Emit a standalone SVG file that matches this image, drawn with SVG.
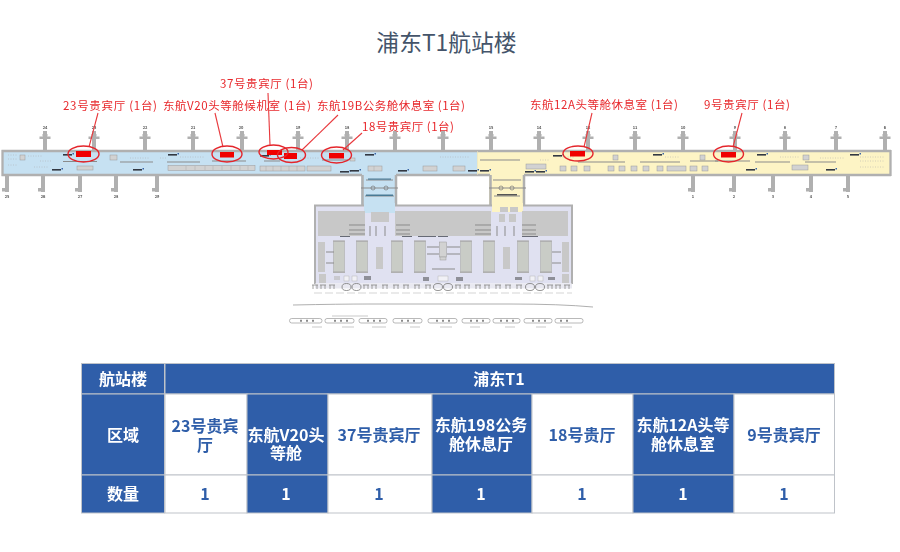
<svg xmlns="http://www.w3.org/2000/svg" xmlns:xlink="http://www.w3.org/1999/xlink" width="900" height="552" viewBox="0 0 900 552">
<style>
text{font-family:"Noto Sans CJK SC","Microsoft YaHei",sans-serif}
.title{font-size:22.800px;fill:#44546a;text-anchor:middle}
.red{font-size:11.500px;fill:#e8282c}
.lead{stroke:#e8383c;stroke-width:1.100;fill:none}
.ell{stroke:#e4252b;stroke-width:1.400;fill:none}
.spot{fill:#f00000}
.g{fill:#b0b0b0}
.lg{fill:#c8c8c8}
.d{fill:#333842}
.bx{fill:#d2d2d2;stroke:#9a9a9a;stroke-width:.5}
.ln{stroke:#8b8b8b;stroke-width:1;fill:none}
.thin{stroke:#aaa;stroke-width:.5;fill:none}
.sm{fill:#c9c9cf}
.gate{font-size:4px;fill:#555;text-anchor:middle;font-weight:700}
.hd{fill:#2f5ea9;stroke:#bfc3c9;stroke-width:1}
.wh{fill:#fff;stroke:#bfc3c9;stroke-width:1}
.tw{font-size:16px;font-weight:700;fill:#fff;text-anchor:middle}
.tb{font-size:16px;font-weight:700;fill:#2f5ea9;text-anchor:middle}
</style>
<defs>
<filter id="soft" x="-2%" y="-2%" width="104%" height="104%"><feGaussianBlur stdDeviation="0.6"/></filter>
<g id="st"><rect x="-2" y="-20" width="4" height="20" class="g"/><rect x="-5.500" y="-14.500" width="11" height="2.500" class="g"/><rect x="-2.500" y="-17" width="5" height="2.500" class="g"/></g>
<g id="sb"><rect x="-2" y="0" width="4" height="17" class="g"/><rect x="-5" y="13" width="6" height="3.500" class="g"/></g>
<g id="col"><rect x="-5.500" y="0" width="11" height="31" fill="#c9ccc6" stroke="#a5a5a5" stroke-width=".5"/><rect x="-6" y="-.5" width="12" height="1.500" class="g"/><rect x="-6" y="30.500" width="12" height="1.500" class="g"/></g>
<g id="ring"><ellipse cx="-5" cy="0" rx="4.500" ry="3.500" fill="none" stroke="#777" stroke-width=".8"/><ellipse cx="5" cy="0" rx="4.500" ry="3.500" fill="none" stroke="#777" stroke-width=".8"/></g>
<g id="mk"><rect x="0" y="0" width="9" height="1.600" class="d"/><rect x="9.500" y="-1" width="1.500" height="1.500" fill="#3a66a8"/></g>
<g id="tt"><path d="M-3 0H3M-2 0V4M2 0V4" stroke="#888" stroke-width=".8" fill="none"/></g>
</defs>

<text class="title" x="446.500" y="51">浦东T1航站楼</text>

<g id="plan" filter="url(#soft)">
<g id="stands-top">
<use xlink:href="#st" x="45" y="151"/><use xlink:href="#st" x="94" y="151"/><use xlink:href="#st" x="145" y="151"/><use xlink:href="#st" x="193" y="151"/><use xlink:href="#st" x="242" y="151"/><use xlink:href="#st" x="298" y="151"/><use xlink:href="#st" x="347" y="151"/><use xlink:href="#st" x="395" y="151"/><use xlink:href="#st" x="443" y="151"/><use xlink:href="#st" x="491" y="151"/><use xlink:href="#st" x="539" y="151"/><use xlink:href="#st" x="588" y="151"/><use xlink:href="#st" x="635" y="151"/><use xlink:href="#st" x="683" y="151"/><use xlink:href="#st" x="735" y="151"/><use xlink:href="#st" x="785" y="151"/><use xlink:href="#st" x="836" y="151"/><use xlink:href="#st" x="885" y="151"/>
</g>
<g id="stands-bottom">
<use xlink:href="#sb" x="7" y="175"/><use xlink:href="#sb" x="43" y="175"/><use xlink:href="#sb" x="80" y="175"/><use xlink:href="#sb" x="116" y="175"/><use xlink:href="#sb" x="157" y="175"/><use xlink:href="#sb" x="693" y="175"/><use xlink:href="#sb" x="734" y="175"/><use xlink:href="#sb" x="773" y="175"/><use xlink:href="#sb" x="811" y="175"/><use xlink:href="#sb" x="848" y="175"/>
</g>
<g id="gate-numbers">
<text class="gate" x="45" y="129">24</text><text class="gate" x="94" y="129">23</text><text class="gate" x="145" y="129">22</text><text class="gate" x="193" y="129">21</text><text class="gate" x="241" y="129">20</text><text class="gate" x="298" y="129">19</text><text class="gate" x="347" y="129">18</text><text class="gate" x="491" y="129">15</text><text class="gate" x="539" y="129">14</text><text class="gate" x="588" y="129">12</text><text class="gate" x="635" y="129">11</text><text class="gate" x="683" y="129">10</text><text class="gate" x="735" y="129">9</text><text class="gate" x="785" y="129">8</text><text class="gate" x="836" y="129">7</text><text class="gate" x="885" y="129">6</text>
<text class="gate" x="7" y="198">25</text><text class="gate" x="43" y="198">26</text><text class="gate" x="80" y="198">27</text><text class="gate" x="116" y="198">28</text><text class="gate" x="157" y="198">29</text><text class="gate" x="693" y="198">1</text><text class="gate" x="734" y="198">2</text><text class="gate" x="773" y="198">3</text><text class="gate" x="811" y="198">4</text><text class="gate" x="848" y="198">5</text>
</g>

<rect x="361" y="172" width="36" height="36" fill="#c6e1f2"/>
<rect x="489" y="172" width="36" height="36" fill="#fdf4c5"/>
<path d="M362.500 175V205M396 175V205M490.500 175V205M524 175V205" stroke="#b0b0b0" stroke-width="2.500" fill="none"/>

<rect x="315" y="205.500" width="257" height="78" fill="#e0e1f1"/>
<path d="M315 284V205.500H572V284" fill="none" stroke="#b0b0b0" stroke-width="2"/>
<rect x="364" y="203" width="31" height="10" fill="#c6e1f2"/>
<rect x="492" y="203" width="31" height="9" fill="#fdf4c5"/>
<g class="lg"><rect x="318" y="211" width="47" height="25"/><rect x="395" y="211" width="96" height="25"/><rect x="522" y="211" width="46" height="25"/></g>
<rect x="371" y="212" width="18" height="10" class="lg"/>
<rect x="500" y="207" width="8" height="5" class="lg"/><rect x="510" y="207" width="8" height="5" class="lg"/><rect x="499" y="214" width="6" height="8" class="lg"/><rect x="509" y="214" width="7" height="8" class="lg"/>
<g>
<use xlink:href="#col" x="339" y="241"/><use xlink:href="#col" x="362" y="241"/><use xlink:href="#col" x="397" y="241"/><use xlink:href="#col" x="420" y="241"/><use xlink:href="#col" x="466" y="241"/><use xlink:href="#col" x="489" y="241"/><use xlink:href="#col" x="523" y="241"/><use xlink:href="#col" x="546" y="241"/>
</g>
<g class="lg"><rect x="318" y="242" width="7" height="30"/><rect x="562" y="242" width="7" height="30"/><rect x="376" y="247" width="7" height="22"/><rect x="503" y="247" width="7" height="22"/><rect x="319" y="274" width="7" height="9"/><rect x="562" y="274" width="7" height="9"/></g>
<rect x="439.500" y="242" width="7" height="15" class="bx"/><rect x="440" y="257" width="6" height="3" class="bx"/>
<g class="ln" stroke-width=".7">
<path d="M349 225H365M349 230H365M349 234H365M396 225H410M396 230H410M396 234H410M475 225H491M475 230H491M475 234H491M522 225H536M522 230H536M522 234H536"/>
<path d="M370 226V236M376 226V236M385 226V236M497 226V236M505 226V236M514 226V236"/>
<path d="M326 252H334M326 263H334M427 247H439M427 254H439M447 247H460M447 254H460M552 252H561M552 263H561"/>
<path d="M432 269H455"/>
</g>
<g class="d" opacity=".7"><rect x="340" y="236" width="10" height="1"/><rect x="402" y="236" width="10" height="1"/><rect x="418" y="236" width="18" height="1"/><rect x="438" y="236" width="10" height="1"/><rect x="522" y="236" width="16" height="1"/></g>
<g class="sm"><rect x="334" y="276" width="6" height="4"/><rect x="344" y="276" width="5" height="5" fill="#f1f1f6" stroke="#aaa" stroke-width=".4"/><rect x="352" y="276" width="5" height="5" fill="#f1f1f6" stroke="#aaa" stroke-width=".4"/><rect x="364" y="276" width="7" height="4" fill="#8e8f98"/><rect x="423" y="277" width="6" height="4" fill="#8e8f98"/><rect x="438" y="276" width="10" height="5" fill="#f1f1f6" stroke="#aaa" stroke-width=".4"/><rect x="456" y="277" width="7" height="4" fill="#8e8f98"/><rect x="515" y="277" width="7" height="3" fill="#8e8f98"/><rect x="530" y="276" width="5" height="5" fill="#f1f1f6" stroke="#aaa" stroke-width=".4"/><rect x="538" y="276" width="5" height="5" fill="#f1f1f6" stroke="#aaa" stroke-width=".4"/><rect x="548" y="277" width="7" height="3" fill="#8e8f98"/></g>
<rect x="315" y="283.500" width="257" height="5" fill="#e9e9f1"/>
<g id="rings"><use xlink:href="#ring" x="351.500" y="287"/><use xlink:href="#ring" x="443" y="287"/><use xlink:href="#ring" x="535" y="287"/></g>
<g><use xlink:href="#tt" x="315" y="285"/><use xlink:href="#tt" x="323" y="285"/><use xlink:href="#tt" x="332" y="285"/><use xlink:href="#tt" x="366" y="285"/><use xlink:href="#tt" x="374" y="285"/><use xlink:href="#tt" x="385" y="285"/><use xlink:href="#tt" x="396" y="285"/><use xlink:href="#tt" x="406" y="285"/><use xlink:href="#tt" x="417" y="285"/><use xlink:href="#tt" x="428" y="285"/><use xlink:href="#tt" x="458" y="285"/><use xlink:href="#tt" x="467" y="285"/><use xlink:href="#tt" x="478" y="285"/><use xlink:href="#tt" x="487" y="285"/><use xlink:href="#tt" x="498" y="285"/><use xlink:href="#tt" x="508" y="285"/><use xlink:href="#tt" x="519" y="285"/><use xlink:href="#tt" x="550" y="285"/><use xlink:href="#tt" x="558" y="285"/><use xlink:href="#tt" x="567" y="285"/></g>
<path d="M314 293H572" stroke="#d5d5d5" stroke-width="1" fill="none" stroke-dasharray="8 3"/>
<path d="M293 305Q340 304 370 304H510Q560 304 593 307" stroke="#9b9b9b" stroke-width=".8" fill="none"/>
<g fill="#fff" stroke="#9b9b9b" stroke-width=".7">
<rect x="289.500" y="318.500" width="32.500" height="4.500" rx="2.200"/><rect x="325" y="318.500" width="29" height="4.500" rx="2"/><rect x="359" y="318.500" width="28" height="4.500" rx="2"/><rect x="393" y="318.500" width="29" height="4.500" rx="2"/><rect x="428" y="318.500" width="29" height="4.500" rx="2"/><rect x="462" y="318.500" width="28" height="4.500" rx="2"/><rect x="493" y="318.500" width="27" height="4.500" rx="2"/><rect x="524" y="318.500" width="28" height="4.500" rx="2"/><rect x="555" y="318.500" width="28" height="4.500" rx="2"/>
</g>
<path d="M300 320.700H316M334 320.700H348M367 320.700H381M401 320.700H416M436 320.700H451M470 320.700H484M500 320.700H514M532 320.700H546M560 320.700H572" stroke="#8a8a8a" stroke-width="2" stroke-dasharray="2 4" fill="none"/>
<path d="M332 316H368M312 327H322M342 327H354M372 327H386M410 327H420M440 327H452M470 327H480M505 327H515M536 327H546M560 327H572" stroke="#c9c9c9" stroke-width="1.200" fill="none"/>

<rect x="3" y="151.500" width="475" height="23" fill="#c6e1f2"/>
<rect x="477" y="151.500" width="414" height="23" fill="#fdf4c5"/>
<path d="M1.500 151H891M1.500 175H362M396 175H490M524 175H891M2.500 150V176M890.500 150V176" stroke="#b0b0b0" stroke-width="2.300" fill="none"/>
<path d="M477.500 151V175" stroke="#e8e3c0" stroke-width=".6"/>
<g class="ln" stroke-width=".7"><path d="M366 180H393M361 188H398M365 196H394M493 180H521M489 188H526M494 196H520"/></g>
<circle cx="373" cy="188" r="2" fill="none" stroke="#777" stroke-width=".7"/><circle cx="386" cy="188" r="2" fill="none" stroke="#777" stroke-width=".7"/><circle cx="501" cy="188" r="2" fill="none" stroke="#777" stroke-width=".7"/><circle cx="512" cy="188" r="2" fill="none" stroke="#777" stroke-width=".7"/>
<rect x="368" y="178.500" width="23" height="1.200" fill="#4a7a94"/><rect x="366" y="194.500" width="27" height="1.500" fill="#4a7a94"/><rect x="497" y="194" width="20" height="1.500" fill="#555"/>
<g id="marks">
<use xlink:href="#mk" x="63" y="154"/><use xlink:href="#mk" x="52" y="169"/><use xlink:href="#mk" x="133" y="169"/><use xlink:href="#mk" x="168" y="154"/><use xlink:href="#mk" x="260" y="155"/><use xlink:href="#mk" x="365" y="154"/><use xlink:href="#mk" x="340" y="171"/><use xlink:href="#mk" x="350" y="170"/><use xlink:href="#mk" x="398" y="170"/><use xlink:href="#mk" x="468" y="170"/><use xlink:href="#mk" x="480" y="170"/><use xlink:href="#mk" x="525" y="171"/><use xlink:href="#mk" x="536" y="171"/><use xlink:href="#mk" x="553" y="155"/><use xlink:href="#mk" x="653" y="154"/><use xlink:href="#mk" x="757" y="154"/><use xlink:href="#mk" x="746" y="169"/><use xlink:href="#mk" x="850" y="154"/><use xlink:href="#mk" x="826" y="169"/>
</g>
<path class="ln" d="M63 161.500H97M120 162H153M167 162H200M212 161H246M264 161H280M322 160H348M480 160H520M578 162H625M640 162H680M690 161H718M715 161H750M755 162H790M805 162H836" stroke-width="1"/>
<g class="bx">
<rect x="77" y="166" width="16" height="4"/><rect x="168" y="165.500" width="87" height="5"/><rect x="260" y="166" width="45" height="5"/><rect x="307" y="166" width="24" height="5"/><rect x="423" y="166" width="14" height="5"/><rect x="453" y="166" width="12" height="5"/><rect x="526" y="164" width="20" height="5"/><rect x="560" y="166" width="6" height="5"/><rect x="571" y="166" width="6" height="5"/><rect x="584" y="166" width="6" height="5"/><rect x="608" y="166" width="6" height="5"/><rect x="619" y="166" width="6" height="5"/><rect x="631" y="166" width="6" height="5"/><rect x="643" y="166" width="6" height="5"/><rect x="657" y="166" width="6" height="5"/><rect x="667" y="166" width="19" height="5"/><rect x="690" y="166" width="7" height="5"/><rect x="702" y="166" width="6" height="5"/><rect x="792" y="165" width="16" height="5"/>
<rect x="20" y="155" width="5" height="5"/><rect x="110" y="155" width="7" height="5"/><rect x="613" y="155" width="5" height="5"/><rect x="700" y="155" width="5" height="5"/><rect x="803" y="155" width="6" height="5"/>
<rect x="350" y="158" width="5" height="3"/><rect x="368" y="166" width="14" height="5"/>
</g>
<path class="thin" d="M186 166V170M195 166V170M205 166V170M213 166V170M222 166V170M231 166V170M240 166V170M248 166V170M266 166V171M273 166V171M281 166V171M289 166V171M297 166V171M374 166V171"/>
<path class="thin" stroke-dasharray="1 1.500" d="M8 155H18M8 159H18M8 165H18M28 156H42M40 161H52M34 167H48M130 158H150M160 158H166M180 157H205M300 158H320M440 157H470M665 157H680M780 157H800M860 157H885M860 161H885M860 167H885M820 158H845M560 157H575M540 160H550"/>
</g>

<g id="vip-spots">
<rect class="spot" x="76" y="151" width="15" height="6"/><rect class="spot" x="220" y="152" width="14" height="5.500"/><rect class="spot" x="267" y="150" width="15" height="5"/><rect class="spot" x="284" y="153" width="13" height="6"/><rect class="spot" x="329" y="153" width="15" height="5.500"/><rect class="spot" x="570" y="151" width="15" height="5.500"/><rect class="spot" x="721" y="152" width="15" height="5.500"/>
</g>

<g id="connectors">
<path class="lead" d="M98 113L89 147"/><path class="lead" d="M215 113L223 147"/><path class="lead" d="M268 93L270 145"/><path class="lead" d="M338 115L302 150"/><path class="lead" d="M362 133L343 150"/><path class="lead" d="M592 113L584 147"/><path class="lead" d="M742 113L733 147"/>
<ellipse class="ell" cx="83.500" cy="154" rx="15.500" ry="8"/><ellipse class="ell" cx="227" cy="154" rx="15" ry="8"/><ellipse class="ell" cx="273.500" cy="152" rx="14.500" ry="7"/><ellipse class="ell" cx="291.500" cy="155" rx="14" ry="7.500"/><ellipse class="ell" cx="336.500" cy="155" rx="15" ry="8"/><ellipse class="ell" cx="578" cy="153.500" rx="15" ry="7.500"/><ellipse class="ell" cx="728.500" cy="154" rx="15" ry="8"/>
</g>

<g id="labels">
<text class="red" x="220" y="88" textLength="93">37号贵宾厅 (1台)</text>
<text class="red" x="63" y="110" textLength="94">23号贵宾厅 (1台)</text>
<text class="red" x="163" y="110" textLength="148">东航V20头等舱候机室 (1台)</text>
<text class="red" x="317" y="110" textLength="148">东航19B公务舱休息室 (1台)</text>
<text class="red" x="362" y="131" textLength="92">18号贵宾厅 (1台)</text>
<text class="red" x="530" y="109" textLength="148">东航12A头等舱休息室 (1台)</text>
<text class="red" x="704" y="109" textLength="86">9号贵宾厅 (1台)</text>
</g>

<g id="table">
<rect class="hd" x="81.500" y="363.500" width="83" height="30.500"/><rect class="hd" x="165" y="363.500" width="669.500" height="30.500"/>
<rect class="hd" x="81.500" y="394" width="83" height="81"/><rect class="wh" x="165" y="394" width="82" height="81"/><rect class="hd" x="247" y="394" width="81" height="81"/><rect class="wh" x="328" y="394" width="104" height="81"/><rect class="hd" x="432" y="394" width="100" height="81"/><rect class="wh" x="532" y="394" width="101" height="81"/><rect class="hd" x="633" y="394" width="101" height="81"/><rect class="wh" x="734" y="394" width="100.500" height="81"/>
<rect class="hd" x="81.500" y="475" width="83" height="38"/><rect class="wh" x="165" y="475" width="82" height="38"/><rect class="hd" x="247" y="475" width="81" height="38"/><rect class="wh" x="328" y="475" width="104" height="38"/><rect class="hd" x="432" y="475" width="100" height="38"/><rect class="wh" x="532" y="475" width="101" height="38"/><rect class="hd" x="633" y="475" width="101" height="38"/><rect class="wh" x="734" y="475" width="100.500" height="38"/>
<text class="tw" x="123" y="385">航站楼</text><text class="tw" x="499" y="385">浦东T1</text>
<text class="tw" x="123" y="441">区域</text>
<text class="tb" x="205" y="432">23号贵宾<tspan x="205" dy="19">厅</tspan></text>
<text class="tw" x="286" y="441">东航V20头<tspan x="286" dy="18">等舱</tspan></text>
<text class="tb" x="379" y="441">37号贵宾厅</text>
<text class="tw" x="481" y="431">东航198公务<tspan x="481" dy="19">舱休息厅</tspan></text>
<text class="tb" x="582" y="441">18号贵厅</text>
<text class="tw" x="683" y="431">东航12A头等<tspan x="683" dy="19">舱休息室</tspan></text>
<text class="tb" x="784" y="441">9号贵宾厅</text>
<text class="tw" x="123" y="499.500">数量</text>
<text class="tb" x="205" y="499.500">1</text><text class="tw" x="286" y="499.500">1</text><text class="tb" x="379" y="499.500">1</text><text class="tw" x="481" y="499.500">1</text><text class="tb" x="582" y="499.500">1</text><text class="tw" x="683" y="499.500">1</text><text class="tb" x="784" y="499.500">1</text>
</g>
</svg>
